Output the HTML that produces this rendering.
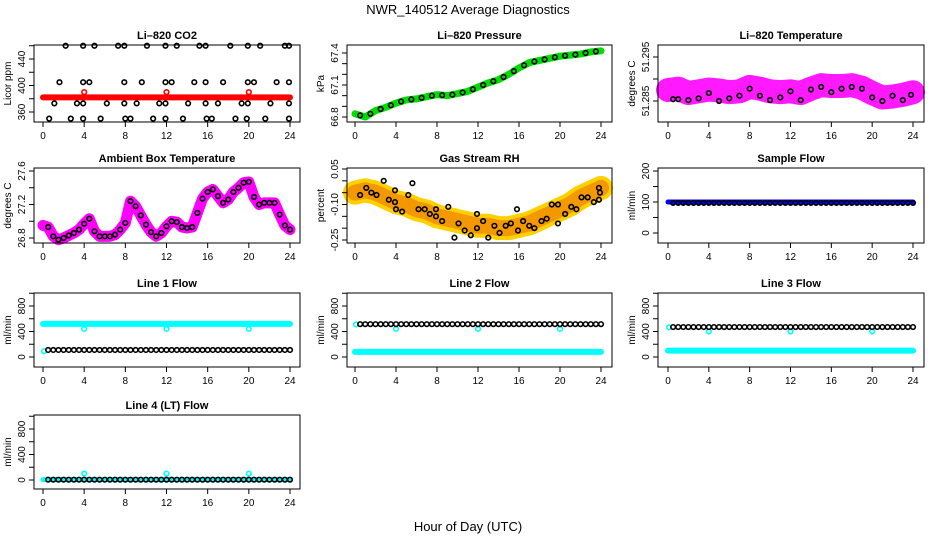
<!DOCTYPE html>
<html><head><meta charset="utf-8">
<style>
html,body{margin:0;padding:0;background:#fff;}
svg{display:block;font-family:"Liberation Sans",sans-serif;}
.t{font-weight:bold;font-size:11px;}
.tk{font-size:10px;}
</style></head>
<body>
<svg id="chart" width="936" height="540" viewBox="0 0 936 540">
<rect x="0" y="0" width="936" height="540" fill="#fff"/>
<text x="468" y="14" text-anchor="middle" font-size="13">NWR_140512  Average Diagnostics</text>
<text x="468" y="531" text-anchor="middle" font-size="13">Hour of Day (UTC)</text>
</svg>
<script>
// ---------- data ----------
const xTicks = [0,4,8,12,16,20,24];
const co2TopX = [2.2,3.9,5.0,7.3,7.9,10.1,11.9,13.0,15.2,15.8,18.2,19.9,21.1,23.5,23.9];
const co2MidX = [1.6,3.9,4.5,7.9,9.6,11.9,12.5,14.7,15.8,17.5,19.9,20.5,22.7,23.9];
const co2LowX = [1.1,3.3,3.9,6.2,7.9,9.1,11.3,11.9,14.1,15.8,17.0,19.3,19.9,22.1,23.9];
const co2BotX = [0.6,2.7,3.9,5.6,8.0,8.5,10.7,11.9,13.6,15.9,16.4,18.7,19.8,21.6,23.9];
const co2Levels = [460,405,373,350];
const co2Line = 382;
const spikeHours = [4,12,20];
const hours = [0,1,2,3,4,5,6,7,8,9,10,11,12,13,14,15,16,17,18,19,20,21,22,23,24];
const pressure = [66.83,66.80,66.86,66.89,66.93,66.96,66.97,66.99,67.01,67.00,67.02,67.04,67.08,67.12,67.15,67.20,67.26,67.31,67.33,67.35,67.37,67.38,67.39,67.41,67.42];
const liTempBand = [51.2875,51.2878,51.2868,51.2872,51.2876,51.2874,51.2870,51.2872,51.2882,51.2878,51.2872,51.2870,51.2872,51.2868,51.2878,51.2886,51.2884,51.2884,51.2886,51.2880,51.2868,51.2858,51.2860,51.2864,51.2870];
const liTempBlack = [51.2854,51.2854,51.2852,51.2856,51.2868,51.2850,51.2856,51.2862,51.2878,51.2862,51.2852,51.2858,51.2872,51.2852,51.2876,51.2882,51.2870,51.2878,51.2882,51.2878,51.2858,51.2850,51.2862,51.2852,51.2864];
const ambHours = [0,0.5,1,1.5,2,2.5,3,3.5,4,4.5,5,5.5,6,6.5,7,7.5,8,8.5,9,9.5,10,10.5,11,11.5,12,12.5,13,13.5,14,14.5,15,15.5,16,16.5,17,17.5,18,18.5,19,19.5,20,20.5,21,21.5,22,22.5,23,23.5,24];
const ambTemp = [26.95,26.93,26.82,26.78,26.80,26.83,26.86,26.90,26.97,27.03,26.88,26.82,26.82,26.82,26.84,26.90,26.98,27.24,27.18,27.07,26.96,26.87,26.82,26.86,26.94,27.00,26.99,26.93,26.92,26.93,27.10,27.27,27.35,27.38,27.30,27.22,27.26,27.35,27.40,27.46,27.47,27.29,27.20,27.22,27.22,27.22,27.08,26.95,26.90];
const rhBand = [-0.05,-0.04,-0.05,-0.07,-0.09,-0.10,-0.12,-0.13,-0.15,-0.16,-0.17,-0.18,-0.19,-0.19,-0.20,-0.20,-0.19,-0.18,-0.16,-0.14,-0.12,-0.10,-0.07,-0.05,-0.03];
const rhBlackX = [0.5,1.1,1.6,2.1,2.8,3.3,3.9,3.9,4.0,4.6,5.2,5.6,6.2,6.8,7.3,7.9,7.9,8.5,9.1,9.7,10.1,10.7,11.3,11.9,11.9,12.5,13.0,13.6,14.1,14.7,15.2,15.8,15.9,16.4,17.0,17.5,18.2,18.7,19.2,19.8,19.8,20.5,21.1,21.6,22.1,22.7,23.3,23.8,23.9,23.8];
const rhBlackY = [-0.06,-0.03,-0.05,-0.06,0.00,-0.08,-0.04,-0.09,-0.12,-0.13,-0.06,-0.01,-0.12,-0.12,-0.14,-0.15,-0.12,-0.17,-0.11,-0.24,-0.18,-0.21,-0.23,-0.14,-0.20,-0.17,-0.24,-0.19,-0.22,-0.19,-0.18,-0.12,-0.21,-0.17,-0.19,-0.20,-0.17,-0.16,-0.10,-0.10,-0.18,-0.14,-0.11,-0.12,-0.07,-0.07,-0.09,-0.03,-0.05,-0.08];
const sampleBlue = 100, sampleBlack = 97;
const line1Cyan = 520, line1Black = 110, line1Spike = 440;
const line2Black = 515, line2Cyan = 80, line2Spike = 440;
const line3Black = 470, line3Cyan = 100, line3Spike = 400;
const line4Black = 5, line4Spike = 100;

// ---------- layout ----------
const NS = "http://www.w3.org/2000/svg";
const svg = document.getElementById('chart');
const cols = [{bx0:34,bx1:300,p0:43,p24:290},{bx0:347,bx1:612,p0:355,p24:601},{bx0:658,bx1:924,p0:668,p24:913}];
const rows = [{by0:45,by1:122},{by0:168,by1:243},{by0:293,by1:367},{by0:415,by1:489}];
function el(tag, attrs, parent){const e=document.createElementNS(NS,tag);for(const k in attrs)e.setAttribute(k,attrs[k]);(parent||svg).appendChild(e);return e;}

function panel(name,title,ylab,c,r,ya,yb,labTicks,minorTicks){
  const C=cols[c],R=rows[r];
  const g=el('g',{});
  
  
  const xs=h=>C.p0+(C.p24-C.p0)*h/24;
  const ys=v=>ya[1]+(yb[1]-ya[1])*(v-ya[0])/(yb[0]-ya[0]);
  const t=el('text',{x:(C.bx0+C.bx1)/2,y:R.by0-6,'text-anchor':'middle',class:'t'},g);t.textContent=title;
  
  
  const yl=el('text',{x:0,y:0,'text-anchor':'middle',transform:`translate(${C.bx0-23},${(R.by0+R.by1)/2}) rotate(-90)`,'font-size':'10'},g);yl.textContent=ylab;
  
  
  const marks=el('g',{},g);
  
  
  // axes
  const ax=el('g',{stroke:'#000','stroke-width':1,fill:'none'},g);
  
  
  el('rect',{x:C.bx0,y:R.by0,width:C.bx1-C.bx0,height:R.by1-R.by0},ax);
  xTicks.forEach(h=>{
    el('line',{x1:xs(h),x2:xs(h),y1:R.by1,y2:R.by1+5},ax);
    const tt=el('text',{x:xs(h),y:R.by1+17,'text-anchor':'middle',class:'tk',fill:'#000',stroke:'none'},g);tt.textContent=h;
    
    
  });
  minorTicks.concat(labTicks.map(d=>d[0])).forEach(v=>{
    const y=ys(v); if(y<R.by0-3||y>R.by1+3) return;
    el('line',{x1:C.bx0-5,x2:C.bx0,y1:y,y2:y},ax);
  });
  labTicks.forEach(d=>{
    const tt=el('text',{x:0,y:0,'text-anchor':'middle',class:'tk',transform:`translate(${C.bx0-9},${ys(d[0])}) rotate(-90)`},g);tt.textContent=d[1];
    
    
  });
  return {xs,ys,marks,C,R};
}
function circ(P,h,v,color,r){
  const e=el('circle',{cx:P.xs(h),cy:P.ys(v),r:r||2.3,fill:'none',stroke:color,'stroke-width':1.6},P.marks);
  
  
}
function band(P,xsArr,vals,color,w,op){
  const pts=xsArr.map((h,i)=>P.xs(h)+','+P.ys(vals[i])).join(' ');
  const e=el('polyline',{points:pts,fill:'none',stroke:color,'stroke-width':w,'stroke-linejoin':'round','stroke-linecap':'round',opacity:op||1},P.marks);
  
  
}
function flat(P,v,color,w){ band(P,[0,24],[v,v],color,w); }
function blackRow(P,v,step){ for(let h=0.5;h<=24;h+=step) circ(P,h,v,'#000'); }

// CO2
let P=panel('co2','Li\u2013820 CO2','Licor ppm',0,0,[360,112],[440,59],[[360,'360'],[400,'400'],[440,'440']],[340,380,420,460]);
flat(P,co2Line,'#ff0000',6);
spikeHours.forEach(h=>circ(P,h,390,'#ff0000'));
[co2TopX,co2MidX,co2LowX,co2BotX].forEach((arr,i)=>arr.forEach(h=>circ(P,h,co2Levels[i],'#000')));

// Pressure
P=panel('pressure','Li\u2013820 Pressure','kPa',1,0,[66.8,117],[67.4,53],[[66.8,'66.8'],[67.1,'67.1'],[67.4,'67.4']],[66.9,67.0,67.2,67.3]);
band(P,hours,pressure,'#00dd00',7);
hours.forEach((h,i)=>{ if(h>0) circ(P,h-0.5,(pressure[i]+pressure[i-1])/2,'#000'); });

// Li temperature
P=panel('li-temp','Li\u2013820 Temperature','degrees C',2,0,[51.285,101],[51.295,57],[[51.285,'51.285'],[51.295,'51.295']],[51.29]);
band(P,hours,liTempBand,'#ff00ff',24,0.9);
hours.forEach((h,i)=>circ(P,Math.max(0.5,Math.min(23.8,h)),liTempBlack[i],'#000'));

// Ambient box
P=panel('ambient','Ambient Box Temperature','degrees C',0,1,[26.8,238],[27.6,171],[[26.8,'26.8'],[27.2,'27.2'],[27.6,'27.6']],[27.0,27.4]);
band(P,ambHours,ambTemp,'#ff00ff',11);
ambHours.forEach((h,i)=>{ if(h>0) circ(P,h,ambTemp[i],'#000'); });

// RH
P=panel('rh','Gas Stream RH','percent',1,1,[0.05,169],[-0.25,240],[[0.05,'0.05'],[-0.10,'-0.10'],[-0.25,'-0.25']],[0.0,-0.05,-0.15,-0.20]);
band(P,hours,rhBand,'#ffd000',24);
band(P,hours,rhBand,'#f08000',16,0.7);
rhBlackX.forEach((h,i)=>circ(P,h,rhBlackY[i],'#000'));

// Sample flow
P=panel('sample-flow','Sample Flow','ml/min',2,1,[0,233],[200,171],[[0,'0'],[100,'100'],[200,'200']],[50,150]);
flat(P,sampleBlue,'#0000ff',5);
blackRow(P,sampleBlack,0.5);

// Line 1
P=panel('line1-flow','Line 1 Flow','ml/min',0,2,[0,357],[800,306],[[0,'0'],[400,'400'],[800,'800']],[200,600,1000]);
flat(P,line1Cyan,'#00ffff',6);
circ(P,0.1,90,'#00ffff');
spikeHours.forEach(h=>circ(P,h,line1Spike,'#00ffff'));
blackRow(P,line1Black,0.5);

// Line 2
P=panel('line2-flow','Line 2 Flow','ml/min',1,2,[0,357],[800,306],[[0,'0'],[400,'400'],[800,'800']],[200,600,1000]);
flat(P,line2Cyan,'#00ffff',6);
circ(P,0.1,510,'#00ffff');
spikeHours.forEach(h=>circ(P,h,line2Spike,'#00ffff'));
blackRow(P,line2Black,0.5);

// Line 3
P=panel('line3-flow','Line 3 Flow','ml/min',2,2,[0,357],[800,306],[[0,'0'],[400,'400'],[800,'800']],[200,600,1000]);
flat(P,line3Cyan,'#00ffff',6);
circ(P,0.1,465,'#00ffff');
spikeHours.forEach(h=>circ(P,h,line3Spike,'#00ffff'));
blackRow(P,line3Black,0.5);

// Line 4
P=panel('line4-flow','Line 4 (LT) Flow','ml/min',0,3,[0,480],[800,429],[[0,'0'],[400,'400'],[800,'800']],[200,600,1000]);
flat(P,line4Black,'#00ffff',5);
spikeHours.forEach(h=>circ(P,h,line4Spike,'#00ffff'));
blackRow(P,line4Black,0.5);
</script>
</body></html>
